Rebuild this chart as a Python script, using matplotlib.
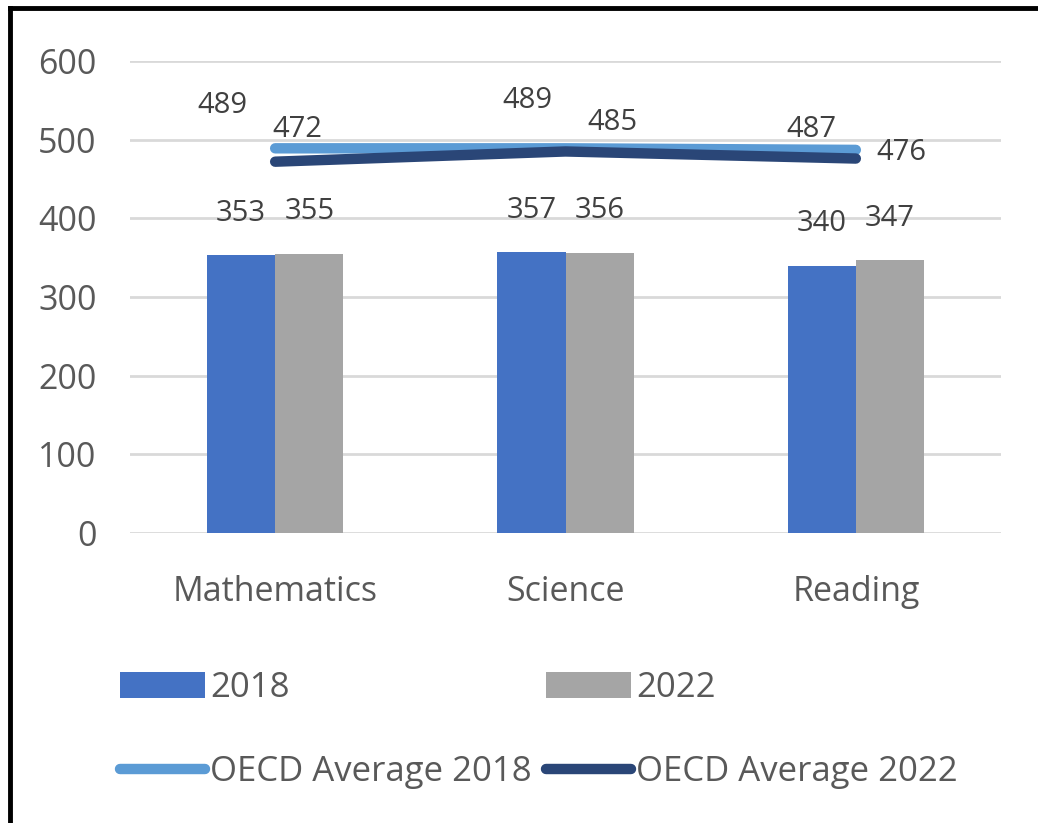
import matplotlib
matplotlib.use("Agg")
import matplotlib.pyplot as plt
from matplotlib.lines import Line2D
import numpy as np

plt.rcParams['font.family'] = ['Open Sans', 'DejaVu Sans']

subjects = ["Mathematics", "Science", "Reading"]
scores_2018 = [353, 357, 340]
scores_2022 = [355, 356, 347]
oecd_2018 = [489, 489, 487]
oecd_2022 = [472, 485, 476]

# hand-placed label offsets (pixels) for the OECD line labels
oecd_2018_offsets = [(-53, 43), (-38, 48), (-44, 20)]
oecd_2022_offsets = [(22, 32), (47, 29), (46, 6)]

c2018 = "#4472C4"
c2022 = "#A5A5A5"
c_oecd18 = "#5B9BD5"
c_oecd22 = "#2A4677"
txt = "#404040"

fig = plt.figure(figsize=(10.38, 8.23), dpi=100)
ax = fig.add_axes([130 / 1038, 1 - 533 / 823, 871 / 1038, 472 / 823])

x = np.arange(len(subjects))
w = 0.235
b1 = ax.bar(x - w / 2, scores_2018, w, color=c2018, label="2018", zorder=2)
b2 = ax.bar(x + w / 2, scores_2022, w, color=c2022, label="2022", zorder=2)

l1, = ax.plot(x, oecd_2018, color=c_oecd18, lw=7.5, solid_capstyle="round",
              label="OECD Average 2018", zorder=3)
l2, = ax.plot(x, oecd_2022, color=c_oecd22, lw=7.5, solid_capstyle="round",
              label="OECD Average 2022", zorder=4)

for bars, vals in ((b1, scores_2018), (b2, scores_2022)):
    for r, v in zip(bars, vals):
        ax.annotate(str(v), (r.get_x() + r.get_width() / 2, v),
                    xytext=(0, 42), textcoords="offset pixels",
                    ha="center", va="center", fontsize=21, color=txt)

for vals, offs in ((oecd_2018, oecd_2018_offsets), (oecd_2022, oecd_2022_offsets)):
    for xi, v, (dx, dy) in zip(x, vals, offs):
        ax.annotate(str(v), (xi, v), xytext=(dx, dy), textcoords="offset pixels",
                    ha="center", va="center", fontsize=21, color=txt)

ax.set_xlim(-0.5, 2.5)
ax.set_ylim(0, 600)
ax.set_yticks(range(0, 601, 100))
ax.set_xticks(x)
ax.set_xticklabels(subjects)
ax.grid(axis="y", color="#D9D9D9", lw=2, zorder=0)
ax.set_axisbelow(True)
for s in ax.spines.values():
    s.set_visible(False)
ax.tick_params(axis="y", length=0, pad=24, labelsize=24.5, labelcolor="#595959")
ax.tick_params(axis="x", length=0, pad=30, labelsize=24.5, labelcolor="#595959")

fig.legend(handles=[b1, l1, b2, l2], ncol=2, loc="upper left",
           bbox_to_anchor=(120 / 1038, 1 - 671 / 823), frameon=False,
           fontsize=25, labelcolor="#595959", handlelength=2.45, handleheight=0.8,
           handletextpad=0.15, columnspacing=0.4, labelspacing=1.45,
           borderpad=0, borderaxespad=0)

# black frame on the left and top edges
fig.add_artist(Line2D([10 / 1038, 10 / 1038], [0, 1 - 8 / 823], color="black", lw=3.5))
fig.add_artist(Line2D([10 / 1038, 1], [1 - 8 / 823, 1 - 8 / 823], color="black", lw=3.5))

fig.savefig("out.png", dpi=100)
